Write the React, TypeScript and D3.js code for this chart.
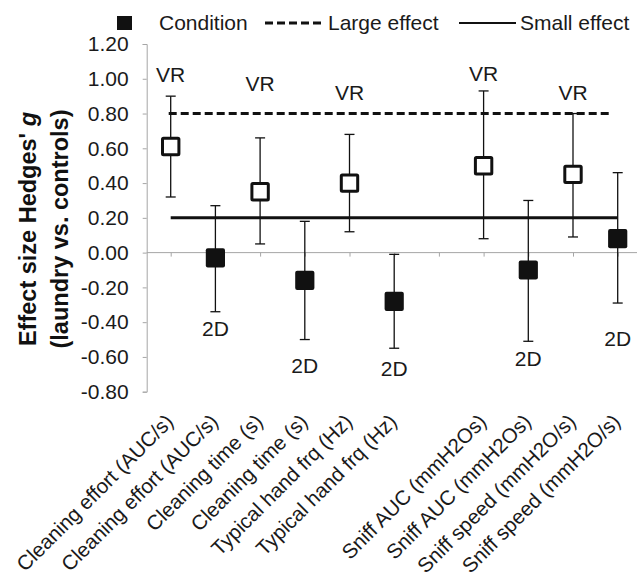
import React, { useEffect, useRef } from "react";
import * as d3 from "d3";

// categories on the x axis (index 7 is an empty gap)
const categories = [
  "Cleaning effort (AUC/s)",
  "Cleaning effort (AUC/s)",
  "Cleaning time (s)",
  "Cleaning time (s)",
  "Typical hand frq (Hz)",
  "Typical hand frq (Hz)",
  "",
  "Sniff AUC (mmH2Os)",
  "Sniff AUC (mmH2Os)",
  "Sniff speed (mmH2O/s)",
  "Sniff speed (mmH2O/s)",
];
const conditions = ["VR", "2D", "VR", "2D", "VR", "2D", null, "VR", "2D", "VR", "2D"];
const effects = [0.61, -0.03, 0.35, -0.16, 0.4, -0.28, null, 0.5, -0.1, 0.45, 0.08];
const ciLow = [0.32, -0.34, 0.05, -0.5, 0.12, -0.55, null, 0.08, -0.51, 0.09, -0.29];
const ciHigh = [0.9, 0.27, 0.66, 0.18, 0.68, -0.01, null, 0.93, 0.3, 0.8, 0.46];
// where the VR / 2D annotations sit, in effect-size units
const labelAt = [0.98, -0.48, 0.93, -0.69, 0.88, -0.71, null, 0.99, -0.65, 0.88, -0.54];

const yTicks = [1.2, 1.0, 0.8, 0.6, 0.4, 0.2, 0, -0.2, -0.4, -0.6, -0.8];
const largeEffect = 0.8;
const smallEffect = 0.2;

const FONT = "'Liberation Sans', Arial, sans-serif";

export default function App() {
  const svgRef = useRef<SVGSVGElement>(null);
  const width = 637;
  const height = 577;

  useEffect(() => {
    const svg = d3.select(svgRef.current);
    svg.selectAll("*").remove();

    const x = d3.scaleLinear().domain([1, categories.length]).range([170.7, 617.7]);
    const y = d3.scaleLinear().domain([-0.8, 1.2]).range([391.7, 44]);
    const axisX = 146.7;

    const g = svg.append("g").attr("font-family", FONT);

    // y axis
    const yAxis = g.append("g")
      .attr("transform", `translate(${axisX},0)`)
      .call(d3.axisLeft(y).tickValues(yTicks).tickSize(4).tickPadding(14).tickFormat(d => (+d).toFixed(2)));
    yAxis.selectAll("path, line").attr("stroke", "#a6a6a6");
    yAxis.selectAll("text").attr("font-size", 21).attr("fill", "#1a1a1a").attr("font-family", FONT);

    // x axis at zero
    const idx = d3.range(1, categories.length + 1);
    const xAxis = g.append("g")
      .attr("transform", `translate(0,${y(0)})`)
      .call(d3.axisBottom(x).tickValues(idx).tickSize(4).tickFormat(() => ""));
    xAxis.select(".domain").remove();
    xAxis.selectAll("line").attr("stroke", "#a6a6a6");
    g.append("line")
      .attr("x1", axisX).attr("x2", width)
      .attr("y1", y(0)).attr("y2", y(0))
      .attr("stroke", "#a6a6a6");

    // category labels
    g.append("g").selectAll("text")
      .data(categories)
      .join("text")
      .attr("transform", (d, i) => `translate(${x(i + 1) + 4},${423}) rotate(-45)`)
      .attr("text-anchor", "end")
      .attr("font-size", 20.5)
      .attr("fill", "#1a1a1a")
      .text(d => d);

    // reference lines
    g.append("line")
      .attr("x1", x(1) - 2).attr("x2", x(categories.length) - 8)
      .attr("y1", y(largeEffect)).attr("y2", y(largeEffect))
      .attr("stroke", "#111").attr("stroke-width", 3).attr("stroke-dasharray", "8,4");
    g.append("line")
      .attr("x1", x(1)).attr("x2", x(categories.length))
      .attr("y1", y(smallEffect)).attr("y2", y(smallEffect))
      .attr("stroke", "#111").attr("stroke-width", 3);

    const rows = idx.map(i => ({
      i,
      cond: conditions[i - 1],
      v: effects[i - 1],
      lo: ciLow[i - 1],
      hi: ciHigh[i - 1],
      lab: labelAt[i - 1],
    })).filter(d => d.v !== null);

    // error bars
    const eb = g.append("g").selectAll("g").data(rows).join("g")
      .attr("stroke", "#111").attr("stroke-width", 1.3);
    eb.append("line")
      .attr("x1", d => x(d.i)).attr("x2", d => x(d.i))
      .attr("y1", d => y(d.lo)).attr("y2", d => y(d.hi));
    eb.append("line")
      .attr("x1", d => x(d.i) - 5).attr("x2", d => x(d.i) + 5)
      .attr("y1", d => y(d.lo)).attr("y2", d => y(d.lo));
    eb.append("line")
      .attr("x1", d => x(d.i) - 5).attr("x2", d => x(d.i) + 5)
      .attr("y1", d => y(d.hi)).attr("y2", d => y(d.hi));

    // markers
    g.append("g").selectAll("rect").data(rows).join("rect")
      .attr("x", d => x(d.i) - (d.cond === "VR" ? 8.2 : 9.6))
      .attr("y", d => y(d.v) - (d.cond === "VR" ? 8.2 : 9.6))
      .attr("width", d => (d.cond === "VR" ? 16.4 : 19.2))
      .attr("height", d => (d.cond === "VR" ? 16.4 : 19.2))
      .attr("rx", d => (d.cond === "VR" ? 1 : 2))
      .attr("fill", d => (d.cond === "VR" ? "#fff" : "#111"))
      .attr("stroke", d => (d.cond === "VR" ? "#111" : "none"))
      .attr("stroke-width", 3);

    // condition annotations
    g.append("g").selectAll("text").data(rows).join("text")
      .attr("x", d => x(d.i))
      .attr("y", d => y(d.lab))
      .attr("text-anchor", "middle")
      .attr("font-size", 21)
      .attr("fill", "#1a1a1a")
      .text(d => d.cond);

    // y axis title
    const title = g.append("text")
      .attr("transform", "translate(36,229) rotate(-90)")
      .attr("text-anchor", "middle")
      .attr("font-size", 23.5)
      .attr("font-weight", "bold")
      .attr("fill", "#111");
    title.append("tspan").attr("x", 0).attr("y", 0).text("Effect size Hedges' ");
    title.append("tspan").attr("font-style", "italic").text("g");
    title.append("tspan").attr("x", 0).attr("y", 32).text("(laundry vs. controls)");

    // legend
    const leg = g.append("g").attr("font-size", 21).attr("fill", "#1a1a1a");
    leg.append("rect").attr("x", 117).attr("y", 16).attr("width", 15).attr("height", 14).attr("fill", "#111");
    leg.append("text").attr("x", 159).attr("y", 30).text("Condition");
    leg.append("line").attr("x1", 265).attr("x2", 323).attr("y1", 23).attr("y2", 23)
      .attr("stroke", "#111").attr("stroke-width", 3).attr("stroke-dasharray", "8,4");
    leg.append("text").attr("x", 328).attr("y", 30).text("Large effect");
    leg.append("line").attr("x1", 459).attr("x2", 516).attr("y1", 23).attr("y2", 23)
      .attr("stroke", "#111").attr("stroke-width", 2);
    leg.append("text").attr("x", 520).attr("y", 30).text("Small effect");
  }, []);

  return (
    <svg
      ref={svgRef}
      width={width}
      height={height}
      style={{ position: "absolute", left: 0, top: 0, background: "#fff" }}
    />
  );
}
